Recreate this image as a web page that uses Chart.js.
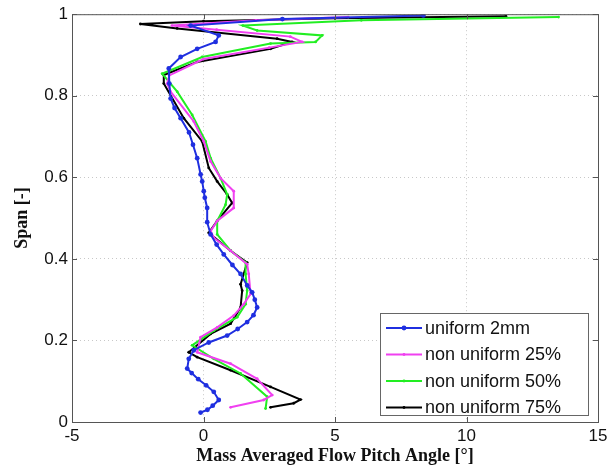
<!DOCTYPE html>
<html lang="en">
<head>
  <meta charset="UTF-8" />
  <title>Flow Pitch Angle</title>
  <script src="https://cdn.jsdelivr.net/npm/chart.js"></script>
  <style>
    body { margin: 0; background: #fff; }
    #wrap { width: 616px; height: 473px; position: relative; }
  </style>
</head>
<body>
  <div id="wrap"><canvas id="pitchChart"></canvas></div>

  <script>
    // series labels and colours
    const seriesNames = ['uniform 2mm', 'non uniform 25%', 'non uniform 50%', 'non uniform 75%'];
    const seriesColors = ['#1f2fe0', '#f040f0', '#22ee22', '#000000'];

    // pitch angle [deg] (x) and span [-] (y)
    const uniformX = [-0.11, 0.15, 0.35, 0.58, 0.39, 0.1, -0.2, -0.45, -0.62, -0.56, -0.37, 0.2, 0.9, 1.3, 1.66, 1.9, 2.04, 1.95, 1.85, 1.66, 1.41, 1.1, 0.77, 0.5, 0.27, 0.14, 0.14, 0.05, 0.01, -0.05, -0.11, -0.24, -0.4, -0.55, -0.87, -1.1, -1.25, -1.3, -1.32, -0.87, -0.24, 0.46, 0.58, -0.49, 3.0, 8.36];
    const uniformY = [0.023, 0.03, 0.04, 0.054, 0.074, 0.09, 0.105, 0.12, 0.131, 0.155, 0.176, 0.195, 0.212, 0.228, 0.245, 0.262, 0.281, 0.30, 0.318, 0.335, 0.363, 0.385, 0.411, 0.435, 0.46, 0.49, 0.525, 0.55, 0.566, 0.59, 0.607, 0.647, 0.68, 0.71, 0.745, 0.77, 0.793, 0.83, 0.867, 0.895, 0.915, 0.932, 0.948, 0.972, 0.988, 0.997];

    const nu25X = [1.03, 2.29, 2.61, 2.04, 1.03, -0.24, -0.11, 0.52, 1.15, 1.53, 1.79, 1.72, 1.66, 1.03, 0.39, 0.27, 0.52, 1.15, 1.15, 0.65, 0.27, 0.01, -0.37, -1.25, -1.38, -1.3, 0.0, 2.5, 3.75, 3.3, 0.5, -1.2, 2.0, 5.5];
    const nu25Y = [0.036, 0.054, 0.066, 0.106, 0.143, 0.171, 0.208, 0.232, 0.261, 0.289, 0.314, 0.363, 0.387, 0.42, 0.452, 0.468, 0.493, 0.525, 0.566, 0.598, 0.639, 0.688, 0.737, 0.81, 0.83, 0.85, 0.89, 0.918, 0.932, 0.945, 0.962, 0.972, 0.985, 0.993];

    const nu50X = [2.36, 2.42, 1.41, 0.39, -0.43, 0.39, 1.28, 1.6, 1.66, 1.6, 1.6, 1.03, 0.52, 0.52, 0.84, 0.9, 0.65, 0.27, 0.08, -0.43, -1.0, -1.57, -0.05, 2.55, 4.26, 4.51, 2.04, 1.5, 6.0, 13.5];
    const nu50Y = [0.033, 0.062, 0.119, 0.155, 0.188, 0.224, 0.257, 0.289, 0.322, 0.363, 0.391, 0.42, 0.46, 0.493, 0.533, 0.558, 0.598, 0.647, 0.688, 0.753, 0.81, 0.854, 0.895, 0.928, 0.932, 0.948, 0.96, 0.972, 0.985, 0.993];

    const nu75X = [2.55, 3.43, 3.69, 2.55, 1.03, -0.24, -0.56, 0.27, 1.03, 1.41, 1.47, 1.41, 1.66, 1.03, 0.2, 0.52, 1.09, 0.9, 0.52, 0.2, -0.05, -0.75, -1.51, -1.51, -0.24, 2.55, 3.37, 2.8, -1.0, -2.4, 0.0, 5.0, 11.5];
    const nu75Y = [0.036, 0.046, 0.055, 0.086, 0.127, 0.159, 0.171, 0.216, 0.241, 0.281, 0.322, 0.338, 0.391, 0.42, 0.464, 0.493, 0.537, 0.558, 0.59, 0.623, 0.688, 0.745, 0.83, 0.851, 0.883, 0.915, 0.932, 0.94, 0.965, 0.976, 0.983, 0.99, 0.995];

    // axis ticks
    const xTicks = [-5, 0, 5, 10, 15];
    const yTicks = [0, 0.2, 0.4, 0.6, 0.8, 1];

    const xs = [uniformX, nu25X, nu50X, nu75X];
    const ys = [uniformY, nu25Y, nu50Y, nu75Y];
    const markerSize = [2.4, 1.4, 1.4, 1.4];

    const datasets = seriesNames.map((name, i) => ({
      label: name,
      data: xs[i].map((x, k) => ({ x: x, y: ys[i][k] })),
      showLine: true,
      borderColor: seriesColors[i],
      backgroundColor: seriesColors[i],
      borderWidth: 2,
      pointRadius: markerSize[i],
      pointBorderWidth: 0,
      tension: 0
    }));

    const tickFont = { family: "'Liberation Sans', Arial, sans-serif", size: 17 };

    // box around plot, MATLAB style, with inward tick marks
    const frame = {
      id: 'frame',
      afterDatasetsDraw(chart) {
        const { ctx, chartArea: a, scales } = chart;
        ctx.save();
        ctx.strokeStyle = '#555';
        ctx.lineWidth = 1;
        ctx.strokeRect(a.left + 0.5, a.top + 0.5, a.right - a.left, a.bottom - a.top);
        ctx.beginPath();
        xTicks.forEach(v => {
          const px = Math.round(scales.x.getPixelForValue(v)) + 0.5;
          ctx.moveTo(px, a.bottom); ctx.lineTo(px, a.bottom - 5);
          ctx.moveTo(px, a.top); ctx.lineTo(px, a.top + 5);
        });
        yTicks.forEach(v => {
          const py = Math.round(scales.y.getPixelForValue(v)) + 0.5;
          ctx.moveTo(a.left, py); ctx.lineTo(a.left + 5, py);
          ctx.moveTo(a.right, py); ctx.lineTo(a.right - 5, py);
        });
        ctx.stroke();
        ctx.restore();
      }
    };

    // legend box in lower right corner
    const boxLegend = {
      id: 'boxLegend',
      afterDraw(chart) {
        const { ctx } = chart;
        const left = 380, top = 313, w = 208, h = 102, row = 26.5;
        ctx.save();
        ctx.fillStyle = '#fff';
        ctx.fillRect(left, top, w, h);
        ctx.strokeStyle = '#666';
        ctx.lineWidth = 1;
        ctx.strokeRect(left + 0.5, top + 0.5, w, h);
        ctx.font = "18px 'Liberation Sans', Arial, sans-serif";
        ctx.textBaseline = 'middle';
        seriesNames.forEach((name, i) => {
          const y = top + 15 + i * row;
          ctx.strokeStyle = seriesColors[i];
          ctx.lineWidth = 2;
          ctx.beginPath();
          ctx.moveTo(386, y); ctx.lineTo(422, y);
          ctx.stroke();
          ctx.fillStyle = seriesColors[i];
          ctx.beginPath();
          ctx.arc(404, y, markerSize[i], 0, Math.PI * 2);
          ctx.fill();
          ctx.fillStyle = '#111';
          ctx.fillText(name, 425, y + 1);
        });
        ctx.restore();
      }
    };

    new Chart(document.getElementById('pitchChart'), {
      type: 'scatter',
      data: { datasets: datasets },
      options: {
        responsive: true,
        maintainAspectRatio: false,
        animation: false,
        layout: { padding: { left: 0, right: 18, top: 12, bottom: 0 } },
        plugins: { legend: { display: false }, tooltip: { enabled: false } },
        scales: {
          x: {
            type: 'linear',
            min: -5, max: 15,
            afterBuildTicks: s => { s.ticks = xTicks.map(v => ({ value: v })); },
            afterFit: s => { s.height = 51; },
            ticks: { color: '#111', font: tickFont, padding: 4, maxRotation: 0 },
            grid: { color: '#c8c8c8', drawTicks: false, lineWidth: 1 },
            border: { display: false, dash: [1, 3] },
            title: {
              display: true,
              text: 'Mass Averaged Flow Pitch Angle [°]',
              color: '#111',
              font: { family: "'Liberation Serif', 'Times New Roman', serif", size: 18, weight: 'bold' },
              padding: { top: 0, bottom: 6 }
            }
          },
          y: {
            type: 'linear',
            min: 0, max: 1,
            afterBuildTicks: s => { s.ticks = yTicks.map(v => ({ value: v })); },
            afterFit: s => { s.width = 72; },
            ticks: { color: '#111', font: tickFont, padding: 4, callback: v => String(v) },
            grid: { color: '#c8c8c8', drawTicks: false, lineWidth: 1 },
            border: { display: false, dash: [1, 3] },
            title: {
              display: true,
              text: 'Span [-]',
              color: '#111',
              font: { family: "'Liberation Serif', 'Times New Roman', serif", size: 18, weight: 'bold' },
              padding: { top: 12, bottom: 0 }
            }
          }
        }
      },
      plugins: [frame, boxLegend]
    });
  </script>
</body>
</html>
